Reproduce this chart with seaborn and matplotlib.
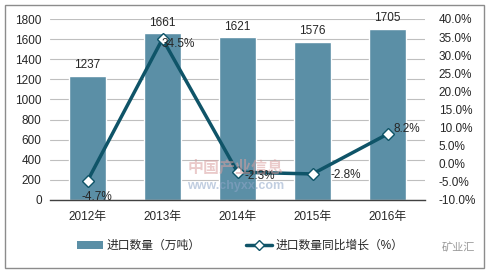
import numpy as np
import pandas as pd
import matplotlib
matplotlib.use("Agg")
import matplotlib.pyplot as plt
import seaborn as sns
from matplotlib.lines import Line2D
from matplotlib.patches import Patch, Rectangle

years = ["2012年", "2013年", "2014年", "2015年", "2016年"]
volume = [1237, 1661, 1621, 1576, 1705]
growth = [-4.7, 34.5, -2.3, -2.8, 8.2]
growth_labels = ["-4.7%", "34.5%", "-2.3%", "-2.8%", "8.2%"]
left_ticks = [0, 200, 400, 600, 800, 1000, 1200, 1400, 1600, 1800]
right_ticks = [-10, -5, 0, 5, 10, 15, 20, 25, 30, 35, 40]
legend_bar = "进口数量（万吨）"
legend_line = "进口数量同比增长（%）"

sns.set_theme(style="white")
plt.rcParams['font.family'] = ['Liberation Sans', 'Noto Sans CJK SC', 'DejaVu Sans']

BAR = "#5B8FA6"
LINE = "#0F5468"
TXT = "#262626"

fig = plt.figure(figsize=(4.9, 2.73), dpi=100)
fig.patches.append(Rectangle((5/490, 5/273), 479/490, 263/273, transform=fig.transFigure,
                             fill=False, edgecolor="#8C8C8C", linewidth=1.0))
ax = fig.add_axes([50/490, 1-200/273, 375/490, 181/273])

df = pd.DataFrame({"year": years, "volume": volume, "growth": growth})
sns.barplot(data=df, x="year", y="volume", color=BAR, width=0.5, ax=ax, saturation=1)
ax.set_ylim(0, 1800)
ax.set_yticks(left_ticks)
ax.set_xlim(-0.5, len(years) - 0.5)
ax.yaxis.grid(True, color="#BFBFBF", linewidth=0.8)
ax.set_axisbelow(True)
for s in ["top", "right", "left"]:
    ax.spines[s].set_visible(False)
ax.spines["bottom"].set_color("#404040")
ax.spines["bottom"].set_linewidth(1.0)
ax.set_xlabel("")
ax.set_ylabel("")
ax.tick_params(axis="both", length=0, labelsize=8.5, colors=TXT)
ax.tick_params(axis="x", pad=8)
ax.tick_params(axis="y", pad=6)

for i, v in enumerate(df["volume"]):
    ax.annotate(str(v), (i, v), xytext=(0, 3), textcoords="offset points",
                ha="center", va="bottom", fontsize=8.5, color=TXT)

ax2 = ax.twinx()
sns.lineplot(x=np.arange(len(years)), y=df["growth"], ax=ax2, color=LINE, linewidth=2.5,
             marker="D", markersize=6, markerfacecolor="white", markeredgecolor=LINE,
             markeredgewidth=1.0)
ax2.set_ylim(-10, 40)
ax2.set_yticks(right_ticks)
ax2.set_yticklabels([f"{t:.1f}%" for t in right_ticks])
for s in ax2.spines.values():
    s.set_visible(False)
ax2.set_ylabel("")
ax2.tick_params(axis="y", length=0, labelsize=8.5, colors=TXT, pad=10)
ax2.grid(False)

offsets = [(7, -12), (11, -4), (16, -3), (24, -1), (14, 4)]
for i, (g, lab) in enumerate(zip(df["growth"], growth_labels)):
    ax2.annotate(lab, (i, g), xytext=offsets[i], textcoords="offset points",
                 ha="center", va="center", fontsize=8.5, color=TXT)

# watermark text
fig.text(0.48, 1-168/273, "中国产业信息", fontsize=11.5, color="#D9A0A0", alpha=0.55,
         ha="center", va="center", fontweight="bold")
fig.text(0.48, 1-186/273, "www.chyxx.com", fontsize=9, color="#8FA6C8", alpha=0.55,
         ha="center", va="center", fontweight="bold")

handles = [Patch(facecolor=BAR, edgecolor="none"),
           Line2D([0], [0], color=LINE, linewidth=2.5, marker="D", markersize=5,
                  markerfacecolor="white", markeredgecolor=LINE)]
fig.legend(handles, [legend_bar, legend_line], loc="center", ncol=2,
           bbox_to_anchor=(0.49, 1-246/273), frameon=False, fontsize=8.5,
           handlelength=2.2, handletextpad=0.3, columnspacing=3.8)

fig.text(0.935, 1-248/273, "矿业汇", fontsize=8, color="#9A9A9A", ha="center", va="center")

fig.savefig("out.png", dpi=100)
